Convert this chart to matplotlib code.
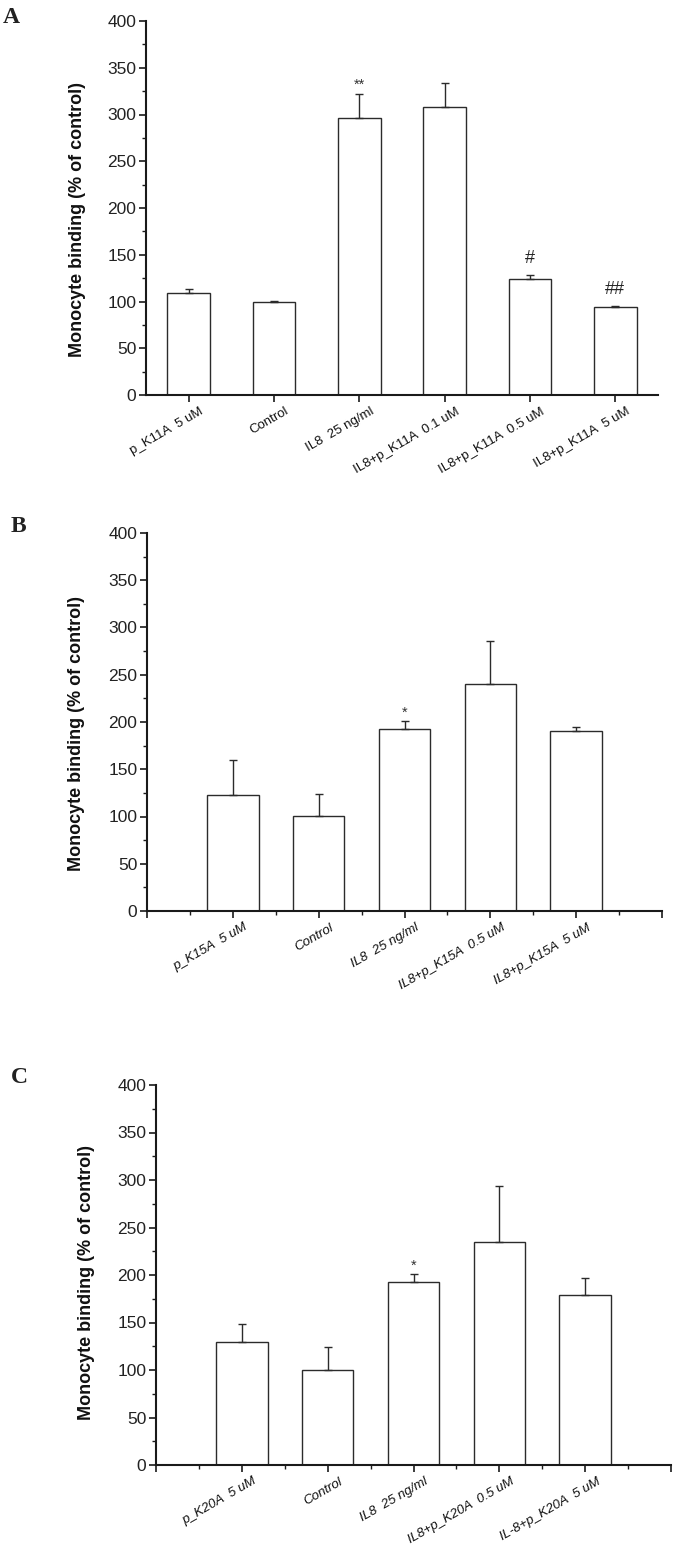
import matplotlib
matplotlib.use("Agg")
import matplotlib.pyplot as plt
import matplotlib.transforms as mtransforms
from matplotlib.ticker import MultipleLocator, FixedLocator
import numpy as np

# ================= DATA =================
labels_a = ['p_K11A  5 uM', 'Control', 'IL8  25 ng/ml',
            'IL8+p_K11A  0.1 uM', 'IL8+p_K11A  0.5 uM', 'IL8+p_K11A  5 uM']
values_a = [109, 100, 296.5, 308.5, 124, 94]
errors_a = [4, 1, 25.5, 25.5, 4, 1]
marks_a = ['', '', '**', '', '#', '##']

labels_b = ['p_K15A  5 uM', 'Control', 'IL8  25 ng/ml',
            'IL8+p_K15A  0.5 uM', 'IL8+p_K15A  5 uM']
values_b = [123, 100.5, 192.5, 240, 190.5]
errors_b = [37, 23.5, 8.5, 46, 4.5]
marks_b = ['', '', '*', '', '']

labels_c = ['p_K20A  5 uM', 'Control', 'IL8  25 ng/ml',
            'IL8+p_K20A  0.5 uM', 'IL-8+p_K20A  5 uM']
values_c = [129, 100.5, 192.5, 234.5, 179]
errors_c = [19, 24, 8.5, 59.5, 18]
marks_c = ['', '', '*', '', '']

YLABEL = 'Monocyte binding (% of control)'
# ========================================

W, H = 675, 1546
DPI = 100
plt.rcParams['font.family'] = ['Liberation Sans', 'DejaVu Sans']

fig = plt.figure(figsize=(W / DPI, H / DPI), dpi=DPI)
EDGE = '#2b2b2b'


def panel(rect_px, letter, letter_px, labels, values, errors, marks,
          bar_width, pad_slots, italic, ylabel_xy):
    left, top, right, bottom = rect_px
    ax = fig.add_axes([left / W, 1 - bottom / H, (right - left) / W, (bottom - top) / H])
    n = len(values)
    x = np.arange(n)
    ax.bar(x, values, width=bar_width, color='white', edgecolor=EDGE, linewidth=1.0, zorder=2)
    ax.errorbar(x, values, yerr=[np.zeros(n), errors], fmt='none', ecolor=EDGE,
                elinewidth=1.0, capsize=2.8, capthick=1.0, zorder=3)

    for xi, v, e, m in zip(x, values, errors, marks):
        if not m:
            continue
        if '#' in m:
            ax.text(xi, v + e + 13, m, ha='center', va='baseline', fontsize=13, color='#222')
        else:
            off = 6 if m == '**' else 4
            ax.text(xi, v + e + off, m, ha='center', va='baseline', fontsize=10.5, color='#333')

    ax.set_ylim(0, 400)
    ax.yaxis.set_major_locator(MultipleLocator(50))
    ax.yaxis.set_minor_locator(MultipleLocator(25))

    for side in ['top', 'right']:
        ax.spines[side].set_visible(False)
    for side in ['left', 'bottom']:
        ax.spines[side].set_linewidth(1.5)
        ax.spines[side].set_color('#1a1a1a')

    ax.tick_params(axis='both', which='major', direction='out', length=5, width=1.2,
                   color='#1a1a1a')
    ax.tick_params(axis='both', which='minor', direction='out', length=3, width=1.0,
                   color='#1a1a1a')
    ax.tick_params(axis='y', labelsize=12.5, labelcolor='#222', pad=2)
    ax.tick_params(axis='x', pad=2.5)

    if pad_slots:
        ax.set_xlim(-1, n)
        ticks = list(range(-1, n + 1))
        tick_labels = [''] + labels + ['']
        ax.xaxis.set_minor_locator(FixedLocator(np.arange(-0.5, n, 1.0)))
    else:
        ax.set_xlim(-0.5, n - 0.5)
        ticks = list(range(n))
        tick_labels = labels
    ax.set_xticks(ticks)
    ax.set_xticklabels(tick_labels, rotation=30, ha='right', va='top',
                       fontsize=9.5, style='italic' if italic else 'normal', color='#111')
    # Origin puts the label's right end a bit past the tick
    shift = mtransforms.ScaledTranslation(0.17, 0.0, fig.dpi_scale_trans)
    for tick in ax.xaxis.get_major_ticks():
        tick.label1.set_transform(tick.label1.get_transform() + shift)

    ax.set_ylabel(YLABEL, fontsize=13, fontweight='bold', color='#111')
    ax.yaxis.set_label_coords(*ylabel_xy)

    fig.text(letter_px[0] / W, 1 - letter_px[1] / H, letter, fontsize=17,
             fontweight='bold', family='Liberation Serif', ha='left', va='baseline',
             color='#222')
    return ax


panel((146, 21, 658, 395), 'A', (3, 23), labels_a, values_a, errors_a, marks_a,
      0.5, False, False, (-0.117, 0.468))
panel((147, 533, 662, 911), 'B', (11, 532), labels_b, values_b, errors_b, marks_b,
      0.6, True, True, (-0.12, 0.47))
panel((156, 1085, 671, 1465), 'C', (11, 1083), labels_c, values_c, errors_c, marks_c,
      0.6, True, True, (-0.118, 0.48))

fig.savefig('out.png', dpi=DPI, facecolor='white')
